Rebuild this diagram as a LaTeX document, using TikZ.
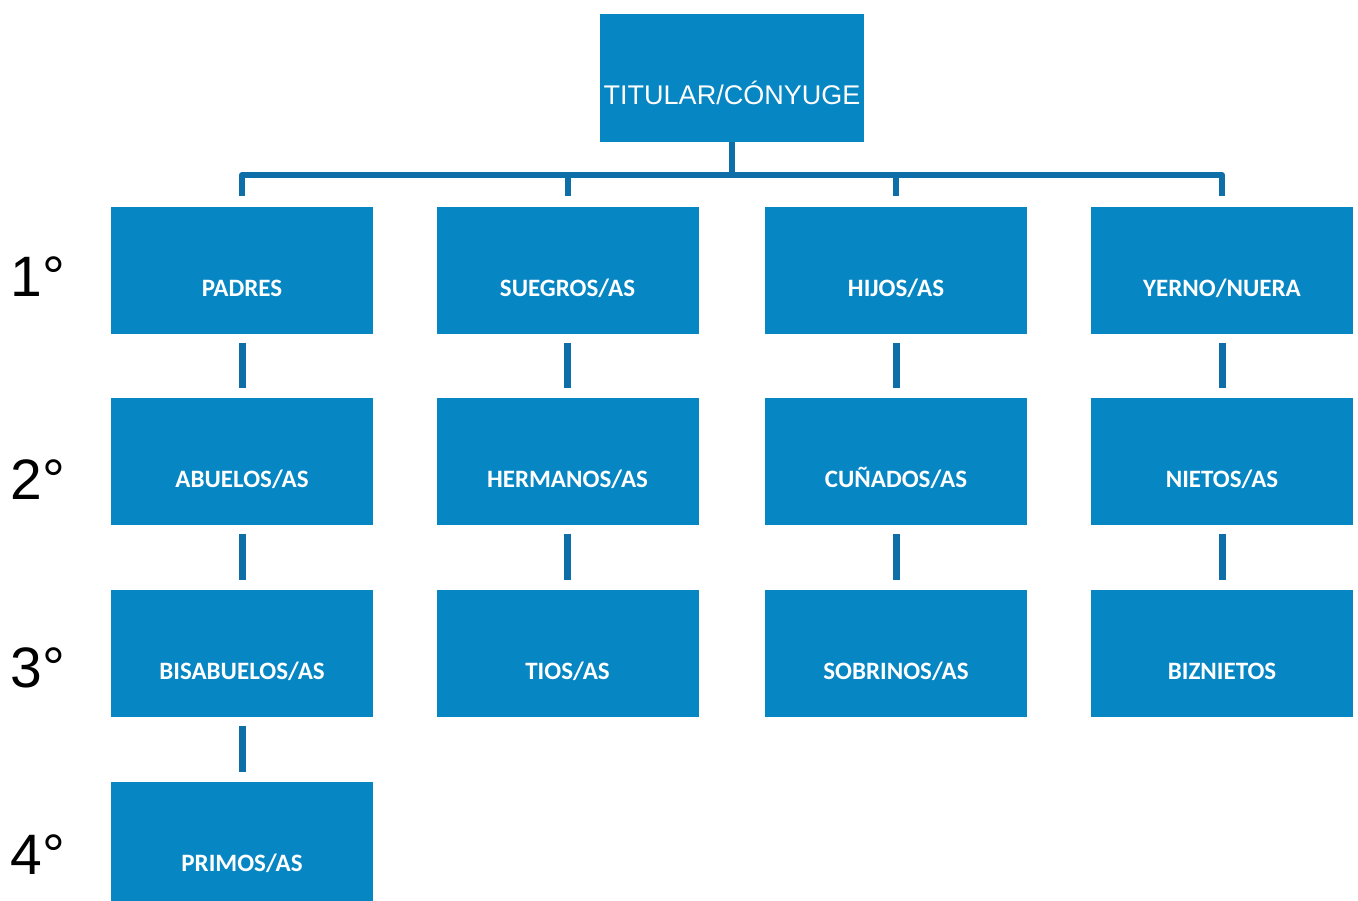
\documentclass[tikz,border=0pt]{standalone}
\usepackage{fontspec}
\setmainfont{Liberation Sans}
\newfontfamily\boxfont{Carlito}
\definecolor{boxblue}{HTML}{0786C4}
\definecolor{lineblue}{HTML}{0E6FA8}
\tikzset{
  kin/.style={fill=boxblue,minimum width=262pt,minimum height=127pt,inner sep=0pt,
    text=white,font=\boxfont\bfseries\fontsize{25}{25}\selectfont,
    text height=52pt,text depth=0pt},
  link/.style={draw=lineblue,line width=7pt},
  bus/.style={draw=lineblue,line width=6pt,line join=round},
  grado/.style={font=\fontsize{57}{57}\selectfont}
}

\begin{document}
\begin{tikzpicture}[x=1pt,y=-1pt]
                    \useasboundingbox (0,0) rectangle (1358,900);

                    \node[kin,minimum width=264pt,minimum height=128pt,
                          font=\fontsize{27}{27}\selectfont] (titular) at (732,78) {TITULAR/CÓNYUGE};

                    \node[kin] (padres)   at (242,270)  {PADRES};
                    \node[kin] (suegros)  at (567.5,270) {SUEGROS/AS};
                    \node[kin] (hijos)    at (896,270)  {HIJOS/AS};
                    \node[kin] (yerno)    at (1222,270) {YERNO/NUERA};

                    \node[kin] (abuelos)   at (242,461)  {ABUELOS/AS};
                    \node[kin] (hermanos)  at (567.5,461) {HERMANOS/AS};
                    \node[kin] (cunados)   at (896,461)  {CUÑADOS/AS};
                    \node[kin] (nietos)    at (1222,461) {NIETOS/AS};

                    \node[kin] (bisabuelos) at (242,653)  {BISABUELOS/AS};
                    \node[kin] (tios)       at (567.5,653) {TIOS/AS};
                    \node[kin] (sobrinos)   at (896,653)  {SOBRINOS/AS};
                    \node[kin] (biznietos)  at (1222,653) {BIZNIETOS};

                    \node[kin] (primos) at (242,845) {PRIMOS/AS};

                    \foreach \g/\y in {1/277,2/480,3/668,4/855}{
                            \node[grado] (g\g) at (38,\y) {\g°};
                        }

                    % barra superior
                    \coordinate (bus) at (732,175);
                    \draw[bus] (titular.south) -- (titular.south |- bus);
                    \draw[bus] ([yshift=10pt]padres.north) -- (padres.north |- bus)
                               -- (yerno.north |- bus) -- ([yshift=10pt]yerno.north);
                    \foreach \n in {suegros,hijos}{
                            \draw[bus] (\n.north |- bus) -- ([yshift=10pt]\n.north);
                        }

                    % columnas
                    \foreach \a/\b in {padres/abuelos,abuelos/bisabuelos,bisabuelos/primos,
                                       suegros/hermanos,hermanos/tios,
                                       hijos/cunados,cunados/sobrinos,
                                       yerno/nietos,nietos/biznietos}{
                            \draw[link] ([yshift=-9pt]\a.south) -- ([yshift=9pt]\b.north);
                        }
                \end{tikzpicture}
\end{document}
